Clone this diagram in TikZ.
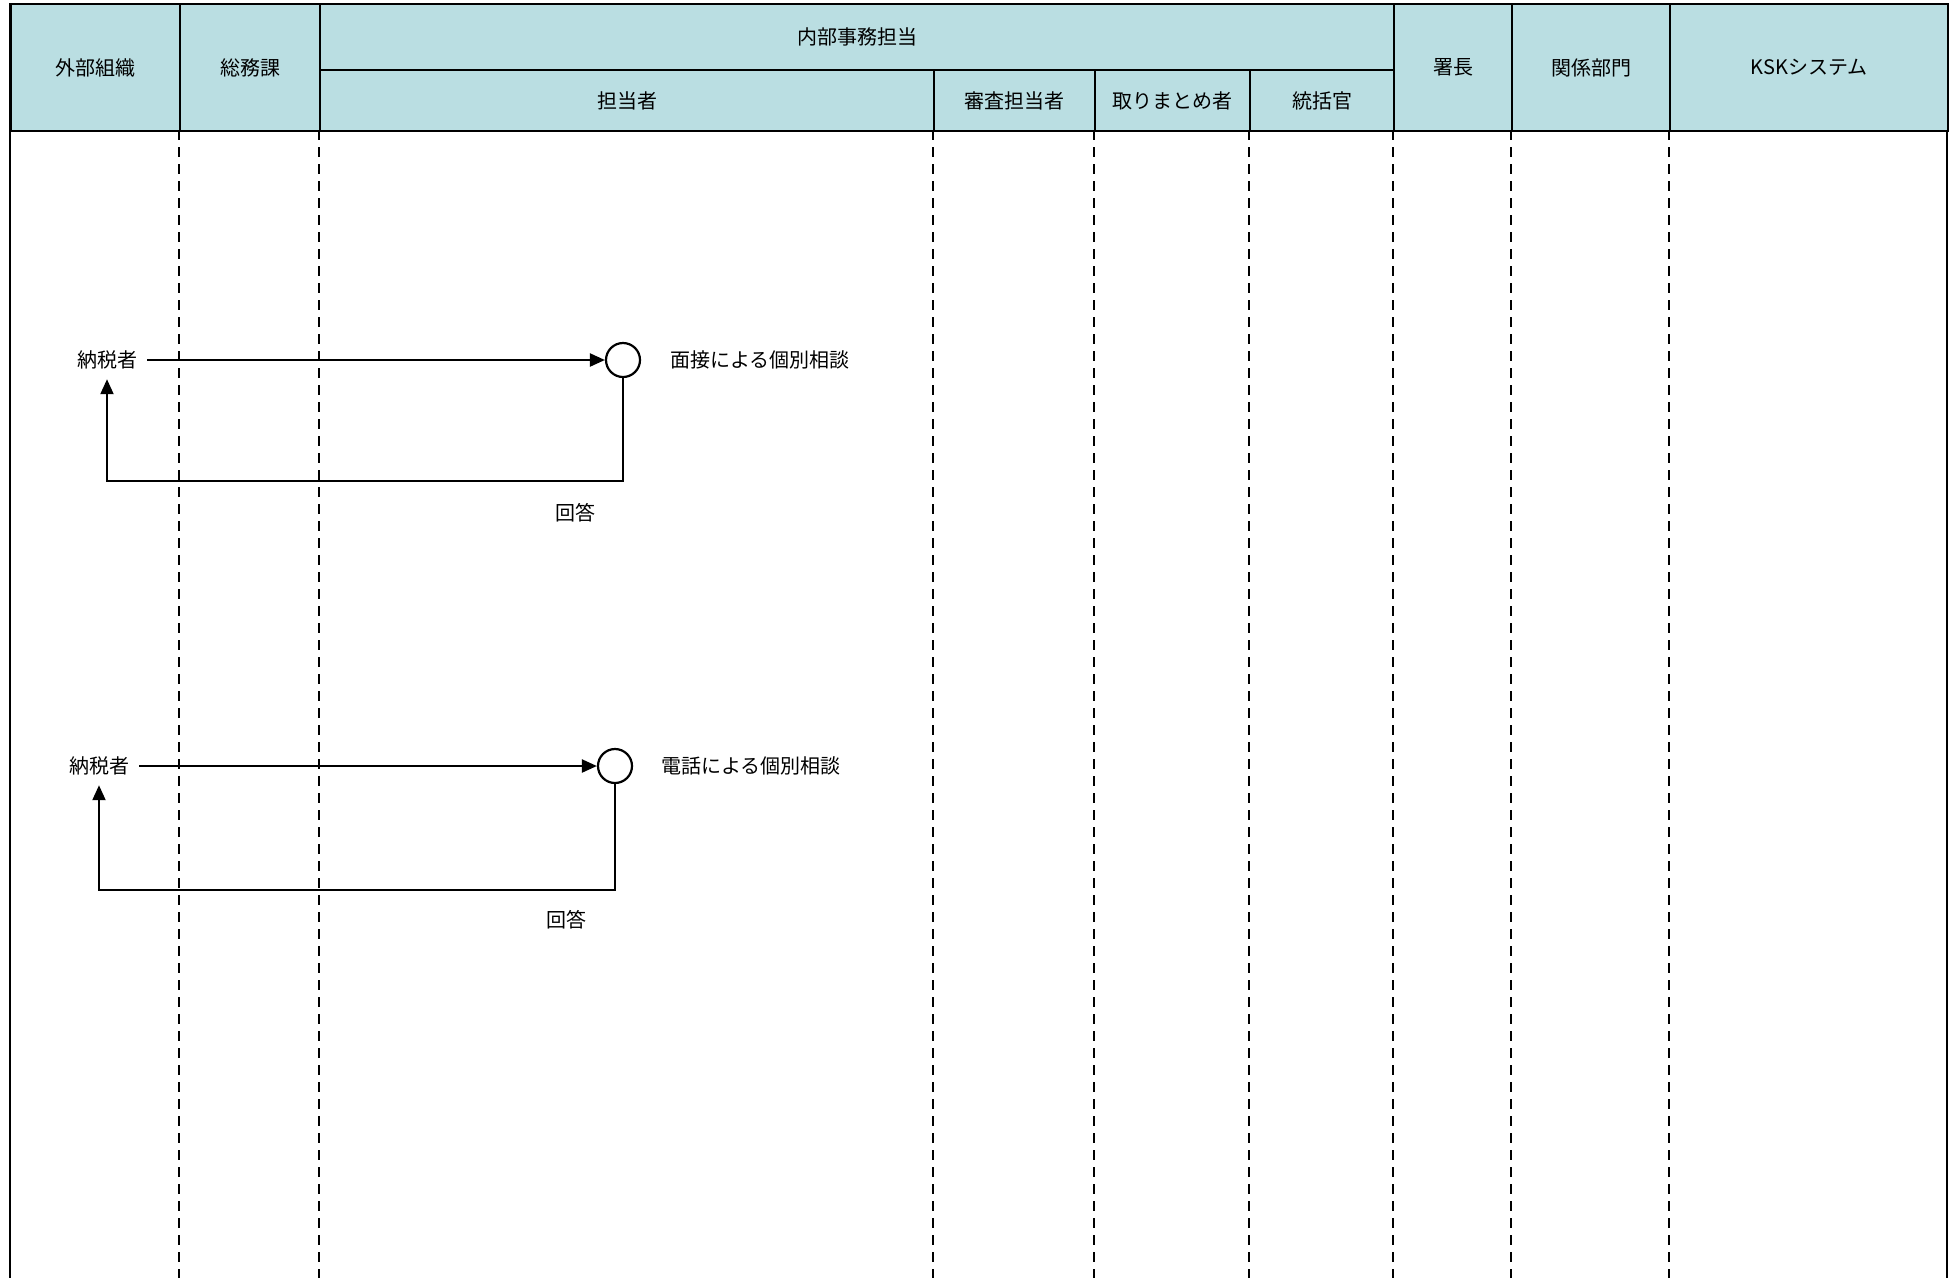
\documentclass[tikz,border=0pt]{standalone}
\usepackage{fontspec}
\setmainfont{Noto Sans CJK JP}
\usetikzlibrary{arrows.meta, positioning}
\definecolor{hdrfill}{RGB}{186,222,226}

\begin{document}
\begin{tikzpicture}[
  x=1pt, y=-1pt,
  font=\fontsize{20}{24}\selectfont,
  hcell/.style={draw, fill=hdrfill, line width=2.2pt, inner sep=0pt, anchor=north west},
  lifeline/.style={line width=2pt, dash pattern=on 10pt off 7pt},
  frame/.style={line width=2.2pt},
  actor/.style={inner sep=0pt, outer sep=10pt},
  event/.style={circle, draw, line width=2.2pt, minimum size=34pt, inner sep=0pt},
  note/.style={inner sep=0pt, anchor=west},
  flow/.style={line width=2.2pt, -{Triangle[length=15pt, width=13pt]}},
]
  \useasboundingbox (0,0) rectangle (1959,1278);

  % --- lifelines ---
  \foreach \x in {179,319,933,1094,1249,1393,1511,1669} {
    \draw[lifeline] (\x,130) -- (\x,1278);
  }
  \draw[frame] (10,3) -- (10,1278);
  \draw[frame] (1947,3) -- (1947,1278);

  % --- header ---
  \node[hcell, minimum width=169pt, minimum height=127pt] (gaibu) at (10,3) {外部組織};
  \node[hcell, minimum width=140pt, minimum height=127pt] (somu) at (179,3) {総務課};
  \node[hcell, minimum width=1074pt, minimum height=66pt] (naibu) at (319,3) {内部事務担当};
  \node[hcell, minimum width=614pt, minimum height=61pt] (tanto) at (319,69) {担当者};
  \node[hcell, minimum width=161pt, minimum height=61pt] (shinsa) at (933,69) {審査担当者};
  \node[hcell, minimum width=155pt, minimum height=61pt] (torimatome) at (1094,69) {取りまとめ者};
  \node[hcell, minimum width=144pt, minimum height=61pt] (tokatsu) at (1249,69) {統括官};
  \node[hcell, minimum width=118pt, minimum height=127pt] (shocho) at (1393,3) {署長};
  \node[hcell, minimum width=158pt, minimum height=127pt] (kankei) at (1511,3) {関係部門};
  \node[hcell, minimum width=278pt, minimum height=127pt] (ksk) at (1669,3) {KSKシステム};

  % --- individual consultation: interview ---
  \node[actor] (tax1) at (107,360) {納税者};
  \node[event] (c1) at (623,360) {};
  \node[note] (n1) at (670,360) {面接による個別相談};
  \coordinate (r1) at (623,481);
  \draw[flow] (tax1) -- (c1);
  \draw[flow] (c1.south) -- (r1) -| (tax1.south);
  \node (ans1) at (575,513) {回答};

  % --- individual consultation: telephone ---
  \node[actor] (tax2) at (99,766) {納税者};
  \node[event] (c2) at (615,766) {};
  \node[note] (n2) at (661,766) {電話による個別相談};
  \coordinate (r2) at (615,890);
  \draw[flow] (tax2) -- (c2);
  \draw[flow] (c2.south) -- (r2) -| (tax2.south);
  \node (ans2) at (566,920) {回答};
\end{tikzpicture}
\end{document}
